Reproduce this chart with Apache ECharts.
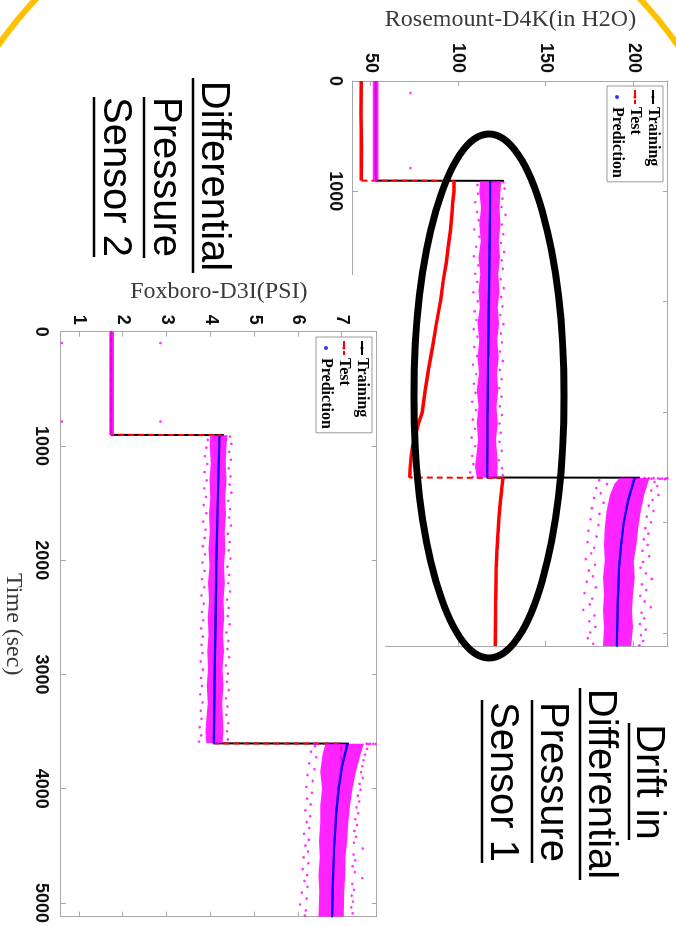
<!DOCTYPE html>
<html><head><meta charset="utf-8">
<script src="https://cdn.jsdelivr.net/npm/echarts@6/dist/echarts.min.js"></script>
<style>
html,body{margin:0;padding:0;background:#fff;overflow:hidden;width:676px;height:926px;}
#chart{position:absolute;left:0;top:0;width:926px;height:676px;transform-origin:0 0;transform:translate(676px,0) rotate(90deg);background:#fff;}
</style></head><body><div id="chart"></div>
<script>
// ---------- axis ticks / labels ----------
const timeTicks = [0, 1000, 2000, 3000, 4000, 5000];
const topTimeLabels = [0, 1000];
const topValTicks = [50, 100, 150, 200];
const botValTicks = [1, 2, 3, 4, 5, 6, 7];
const legendNames = ['Training', 'Test', 'Prediction'];

// ---------- Rosemount-D4K (top plot) ----------
const topTrain1 = [[0, 53], [903, 53]];
const topTrain2 = [[905, 126], [915, 118.2], [1500, 117.8], [2000, 117.4], [2500, 117], [3000, 116.7], [3593, 116.5]];
const topTrain3 = [[3595, 203.4], [3610, 200.3], [3800, 196.8], [4000, 194.3], [4200, 192.8], [4400, 191.7], [4700, 190.9], [5000, 190.5], [5120, 190.4]];
const topTest1 = [[0, 44.7], [300, 44.5], [600, 44.8], [903, 44.7]];
const topTest2 = [[905, 97.5], [1000, 97.6], [1100, 96.9], [1200, 96.4], [1350, 95.6], [1500, 94.3], [1650, 93.1], [1800, 91.5], [2000, 89.8], [2200, 87.5], [2400, 85.4], [2600, 83.2], [2800, 81.2], [3000, 79.5], [3100, 77.4], [3200, 75.8], [3300, 74.1], [3400, 73.2], [3500, 72.6], [3593, 72.3]];
const topTest3 = [[3597, 125.5], [3700, 124.7], [3800, 124], [3950, 123.2], [4100, 122.6], [4250, 122.1], [4400, 121.7], [4700, 121.3], [5120, 121.1]];
const topPred2 = [[915, 118.2], [1500, 117.8], [2000, 117.4], [2500, 117], [3000, 116.7], [3593, 116.5]];
const topPred3 = [[3597, 200.5], [3800, 196.8], [4000, 194.3], [4200, 192.8], [4400, 191.7], [4700, 190.9], [5000, 190.5], [5120, 190.4]];
// dense part of the magenta cloud: [time, low, high]
const topBand1 = [[0, 51.3, 54.5], [903, 51.3, 54.5]];
const topBand2 = [[906, 112.5, 124.5], [1000, 112, 124], [1150, 113, 123.5], [1300, 112, 124], [1450, 112.8, 123], [1600, 111.5, 123.8], [1750, 112.5, 122.8], [1900, 111.5, 123.5], [2050, 112.2, 122.5], [2200, 111, 123.2], [2350, 112, 122.2], [2500, 111, 123], [2650, 111.8, 122], [2800, 110.5, 122.8], [2950, 111.5, 121.8], [3100, 110.5, 122.5], [3250, 111.2, 121.5], [3400, 110.2, 122.2], [3500, 109.5, 122.5], [3594, 110.5, 122]];
const topBand3 = [[3597, 192, 209], [3650, 189, 208], [3750, 186.5, 206], [3900, 184.5, 204], [4050, 183.5, 202.5], [4200, 183, 201.5], [4350, 183.5, 200], [4500, 182.5, 200.5], [4650, 183, 199.5], [4800, 182.5, 199], [4950, 183, 199.5], [5120, 182.5, 198.5]];
// scattered magenta points
const topCloud = [[109, 72.8], [790, 72.8],
  [918, 125.8], [942, 110.9], [975, 126.4], [1021, 111.3], [1066, 125.1], [1098, 109.6], [1142, 124.6], [1187, 110.7], [1213, 126.9], [1262, 111.6], [1301, 124.9], [1345, 109.1], [1388, 125.6], [1412, 111.9], [1467, 124.3], [1503, 110.2], [1549, 126.1], [1588, 108.9], [1625, 124.7], [1671, 111.4], [1702, 125.3], [1748, 109.7], [1796, 124.1], [1821, 110.8], [1877, 125.9], [1915, 108.6], [1958, 124.4], [1996, 111.1], [2043, 125.2], [2087, 109.3], [2121, 123.9], [2166, 110.4], [2204, 125.7], [2249, 108.8], [2288, 124.2], [2317, 110.9], [2369, 124.9], [2411, 109.1], [2452, 123.8], [2493, 110.6], [2538, 125.4], [2571, 108.4], [2619, 123.6], [2656, 110.2], [2702, 124.8], [2744, 108.9], [2783, 123.3], [2826, 109.8], [2861, 124.6], [2907, 107.9], [2948, 123.7], [2983, 110.1], [3027, 124.9], [3069, 108.3], [3104, 123.4], [3152, 109.5], [3188, 124.2], [3231, 107.6], [3270, 123.5], [3309, 109.7], [3352, 124.8], [3398, 107.9], [3436, 123.2], [3471, 108.6], [3509, 124.9], [3547, 106.8], [3572, 125.3], [3588, 108.2],
  [3598, 206.2], [3599, 208.7], [3600, 211.3], [3601, 213.8], [3602, 216.1], [3603, 218.4], [3604, 210.1], [3606, 214.9], [3608, 217.6], [3600, 219.2],
  [3618, 180.3], [3634, 211.8], [3652, 184.7], [3671, 213.4], [3689, 178.6], [3712, 209.9], [3735, 181.2], [3751, 214.1], [3778, 177.4], [3796, 210.7], [3822, 182.8], [3849, 208.6], [3871, 176.1], [3897, 211.2], [3923, 180.4], [3948, 207.4], [3972, 175.3], [3999, 209.8], [4024, 179.9], [4051, 206.6], [4076, 174.2], [4102, 208.3], [4128, 178.8], [4153, 205.7], [4179, 173.6], [4204, 207.9], [4230, 177.5], [4257, 204.9], [4281, 175.8], [4306, 208.8], [4333, 172.7], [4359, 205.2], [4384, 177.9], [4411, 203.8], [4437, 174.4], [4462, 206.9], [4488, 176.7], [4513, 210.3], [4538, 173.2], [4562, 204.6], [4589, 178.4], [4614, 207.1], [4640, 171.9], [4666, 203.7], [4691, 176.3], [4716, 206.2], [4743, 174.9], [4768, 209.7], [4793, 171.2], [4819, 204.4], [4844, 177.6], [4870, 205.9], [4896, 174.6], [4921, 203.5], [4947, 178.1], [4972, 206.8], [4998, 175.2], [5023, 204.1], [5049, 173.8], [5074, 205.3], [5100, 176.9], [5114, 203.2]];

// ---------- Foxboro-D3I (bottom plot) ----------
const botTrain1 = [[0, 1.73], [903, 1.73]];
const botTrain2 = [[905, 4.3], [915, 4.19], [1500, 4.16], [2000, 4.13], [2500, 4.11], [3000, 4.09], [3603, 4.07]];
const botTrain3 = [[3605, 7.15], [3620, 7.1], [3800, 7.0], [4000, 6.92], [4200, 6.87], [4500, 6.82], [4800, 6.79], [5120, 6.77]];
const botTest1 = [[0, 1.73], [903, 1.73]];
const botTest2 = [[905, 4.22], [1500, 4.16], [2000, 4.13], [2500, 4.11], [3000, 4.09], [3603, 4.07]];
const botTest3 = [[3605, 6.98], [3800, 6.98], [4000, 6.91], [4200, 6.86], [4500, 6.82], [4800, 6.79], [5120, 6.77]];
const botPred2 = [[915, 4.2], [1500, 4.16], [2000, 4.13], [2500, 4.11], [3000, 4.09], [3600, 4.07]];
const botPred3 = [[3610, 7.12], [3800, 7.0], [4000, 6.92], [4200, 6.87], [4500, 6.82], [4800, 6.79], [5120, 6.77]];
const botBand1 = [[0, 1.68, 1.79], [903, 1.68, 1.79]];
const botBand2 = [[906, 3.99, 4.38], [1000, 3.98, 4.36], [1150, 4.0, 4.34], [1300, 3.97, 4.36], [1450, 3.99, 4.33], [1600, 3.96, 4.35], [1750, 3.98, 4.32], [1900, 3.95, 4.33], [2050, 3.97, 4.3], [2200, 3.94, 4.32], [2350, 3.96, 4.29], [2500, 3.93, 4.31], [2650, 3.95, 4.28], [2800, 3.92, 4.3], [2950, 3.94, 4.27], [3100, 3.91, 4.29], [3250, 3.93, 4.26], [3400, 3.9, 4.28], [3500, 3.88, 4.29], [3602, 3.9, 4.27]];
const botBand3 = [[3606, 6.62, 7.5], [3700, 6.55, 7.42], [3850, 6.5, 7.32], [4000, 6.54, 7.24], [4150, 6.5, 7.18], [4300, 6.5, 7.14], [4450, 6.47, 7.12], [4600, 6.49, 7.08], [4750, 6.46, 7.07], [4900, 6.48, 7.05], [5120, 6.46, 7.04]];
const botCloud = [[99, 0.6], [99, 2.85], [786, 0.6], [786, 2.85],
  [918, 4.44], [947, 3.93], [981, 4.47], [1015, 3.9], [1052, 4.42], [1089, 3.87], [1121, 4.46], [1158, 3.92], [1196, 4.41], [1229, 3.86], [1267, 4.45], [1302, 3.91], [1338, 4.43], [1371, 3.85], [1409, 4.47], [1446, 3.89], [1481, 4.4], [1517, 3.84], [1553, 4.44], [1588, 3.9], [1626, 4.42], [1662, 3.83], [1697, 4.46], [1733, 3.88], [1769, 4.39], [1806, 3.86], [1841, 4.43], [1877, 3.82], [1913, 4.41], [1949, 3.87], [1986, 4.45], [2021, 3.81], [2057, 4.38], [2093, 3.86], [2129, 4.42], [2166, 3.8], [2201, 4.4], [2237, 3.85], [2274, 4.44], [2309, 3.79], [2345, 4.37], [2381, 3.84], [2418, 4.41], [2453, 3.8], [2489, 4.39], [2526, 3.83], [2561, 4.43], [2597, 3.78], [2633, 4.36], [2669, 3.82], [2706, 4.4], [2741, 3.79], [2777, 4.38], [2813, 3.81], [2849, 4.42], [2886, 3.77], [2921, 4.35], [2957, 3.82], [2993, 4.39], [3030, 3.78], [3065, 4.37], [3101, 3.8], [3137, 4.41], [3174, 3.76], [3209, 4.35], [3245, 3.81], [3281, 4.38], [3318, 3.77], [3353, 4.36], [3389, 3.79], [3426, 4.4], [3461, 3.75], [3497, 4.37], [3533, 3.78], [3569, 4.39], [3588, 3.73],
  [3606, 7.56], [3607, 7.64], [3608, 7.71], [3609, 7.77], [3607, 6.42], [3608, 6.36], [3610, 7.6],
  [3628, 6.38], [3651, 7.57], [3676, 6.29], [3702, 7.52], [3725, 6.41], [3751, 7.49], [3778, 6.25], [3803, 7.46], [3829, 6.37], [3855, 7.43], [3881, 6.21], [3906, 7.47], [3932, 6.33], [3958, 7.4], [3984, 6.18], [4009, 7.42], [4035, 6.31], [4061, 7.36], [4087, 6.2], [4112, 7.39], [4138, 6.28], [4164, 7.33], [4189, 6.16], [4215, 7.37], [4241, 6.27], [4267, 7.3], [4292, 6.19], [4318, 7.34], [4344, 6.25], [4370, 7.28], [4395, 6.13], [4421, 7.32], [4447, 6.24], [4473, 7.27], [4498, 6.16], [4524, 7.47], [4550, 6.22], [4576, 7.26], [4601, 6.12], [4627, 7.3], [4653, 6.23], [4679, 7.24], [4704, 6.1], [4730, 7.29], [4756, 6.2], [4782, 7.46], [4807, 6.14], [4833, 7.23], [4859, 6.21], [4885, 7.27], [4910, 6.08], [4936, 7.22], [4962, 6.19], [4988, 7.25], [5013, 6.04], [5039, 7.21], [5065, 6.17], [5091, 7.24], [5110, 6.15]];

// ---------- helpers ----------
const GRAY = '#a8a8a8';
const LBL = {fontFamily: 'Liberation Sans', fontWeight: 'bold', fontSize: 18, color: '#111'};
const NAME = {fontFamily: 'Liberation Serif', fontSize: 24, color: '#3a3a3a'};

function axis(grid, pos, min, max, ticks, labels, margin, z, extra) {
  return Object.assign({
    type: 'value', gridIndex: grid, position: pos, min: min, max: max, z: z,
    axisLine: {show: true, onZero: false, lineStyle: {color: GRAY, width: 1}},
    axisTick: {show: true, inside: true, length: 5, customValues: ticks, lineStyle: {color: GRAY}},
    axisLabel: labels ? Object.assign({show: true, customValues: labels, margin: margin, formatter: v => String(v)}, LBL) : {show: false},
    splitLine: {show: false}
  }, extra || {});
}
function line(name, data, xi, yi, color, width, z, dashed) {
  return {type: 'line', name: name, data: data, xAxisIndex: xi, yAxisIndex: yi, symbol: 'none', z: z,
    silent: true, animation: false, clip: true,
    lineStyle: {color: color, width: width, type: dashed ? [6, 4] : 'solid'}, itemStyle: {color: color}};
}
function band(pts, xi, yi, z) {
  return {type: 'custom', xAxisIndex: xi, yAxisIndex: yi, z: z, silent: true, data: pts,
    encode: {x: 0, y: [1, 2]},
    renderItem: function (params, api) {
      if (params.dataIndex !== 0) return;
      const up = pts.map(p => api.coord([p[0], p[2]]));
      const lo = pts.map(p => api.coord([p[0], p[1]])).reverse();
      return {type: 'polygon', shape: {points: up.concat(lo)}, style: {fill: '#ff00ff', opacity: 0.86}};
    }};
}
function cloud(data, xi, yi, z) {
  return {type: 'scatter', data: data, xAxisIndex: xi, yAxisIndex: yi, z: z, silent: true,
    symbol: 'circle', symbolSize: 2.6, itemStyle: {color: '#ff00ff'}};
}
function predDots(data, xi, yi, z) {
  return {type: 'scatter', name: 'Prediction', data: data, xAxisIndex: xi, yAxisIndex: yi, z: z, silent: true,
    symbol: 'circle', symbolSize: 2, itemStyle: {color: '#0000ff'}};
}
const cat = (...a) => [].concat(...a);

function legend(left, top) {
  return {data: legendNames, left: left, top: top, orient: 'vertical', z: 20, selectedMode: false,
    itemWidth: 14, itemHeight: 4, itemGap: 2, padding: [2, 4, 2, 3],
    backgroundColor: '#fff', borderColor: '#9a9a9a', borderWidth: 1,
    textStyle: {fontFamily: 'Liberation Serif', fontWeight: 'bold', fontSize: 16, color: '#000', padding: [0, 0, 0, -2]}};
}

const chart = echarts.init(document.getElementById('chart'));
const option = {
  animation: false,
  backgroundColor: '#fff',
  grid: [
    {left: 81, top: 8, width: 565, height: 315},
    {left: 331.7, top: 299.3, width: 586, height: 321}
  ],
  xAxis: [
    axis(0, 'bottom', 0, 5120, timeTicks, topTimeLabels, 9, 1),
    axis(0, 'top', 0, 5120, timeTicks, null, 0, 1),
    axis(1, 'bottom', 0, 5120, timeTicks, timeTicks, 11, 9,
      {name: 'Time (sec)', nameLocation: 'middle', nameGap: 36, nameTextStyle: NAME}),
    axis(1, 'top', 0, 5120, timeTicks, null, 0, 9)
  ],
  yAxis: [
    axis(0, 'left', 40, 219.5, topValTicks, topValTicks, 8, 1,
      {name: 'Rosemount-D4K(in H2O)', nameLocation: 'middle', nameGap: 39, nameRotate: 90, nameTextStyle: NAME}),
    axis(0, 'right', 40, 219.5, topValTicks, null, 0, 1),
    axis(1, 'left', 0.58, 7.79, botValTicks, botValTicks, 7, 9,
      {name: 'Foxboro-D3I(PSI)', nameLocation: 'middle', nameGap: 17, nameRotate: 90, nameTextStyle: NAME}),
    axis(1, 'right', 0.58, 7.79, botValTicks, null, 0, 9)
  ],
  legend: [legend(86, 13), legend(337, 304)],
  series: [
    // top plot
    line('Training', cat(topTrain1, topTrain2, topTrain3), 0, 0, '#000', 2, 2, false),
    line('Test', cat(topTest1, topTest2, topTest3), 0, 0, '#ff0000', 2, 3, true),
    line('', topTest1, 0, 0, '#ff0000', 3.5, 3, false),
    line('', topTest2, 0, 0, '#ff0000', 3.5, 3, false),
    line('', topTest3, 0, 0, '#ff0000', 3.5, 3, false),
    band(topBand1, 0, 0, 4), band(topBand2, 0, 0, 4), band(topBand3, 0, 0, 4),
    cloud(topCloud, 0, 0, 4),
    predDots(cat(topPred2, topPred3), 0, 0, 5),
    line('Prediction', topPred2, 0, 0, '#0000ff', 2.2, 5, false),
    line('Prediction', topPred3, 0, 0, '#0000ff', 2.2, 5, false),
    // bottom plot
    line('Training', cat(botTrain1, botTrain2, botTrain3), 2, 2, '#000', 2, 10, false),
    line('Test', cat(botTest1, botTest2, botTest3), 2, 2, '#ff0000', 2, 11, true),
    band(botBand1, 2, 2, 12), band(botBand2, 2, 2, 12), band(botBand3, 2, 2, 12),
    cloud(botCloud, 2, 2, 12),
    predDots(cat(botPred2, botPred3), 2, 2, 13),
    line('Prediction', botPred2, 2, 2, '#0000ff', 2.2, 13, false),
    line('Prediction', botPred3, 2, 2, '#0000ff', 2.2, 13, false)
  ],
  graphic: {elements: [
    // yellow slide ring, visible only in the top corners
    {type: 'circle', shape: {cx: 282, cy: 338, r: 414}, style: {fill: 'none', stroke: '#FFC000', lineWidth: 6}, z: 0, z2: 0, silent: true},
    {type: 'rect', shape: {x: 100, y: 0, width: 826, height: 676}, style: {fill: '#fff'}, z: 0, z2: 1, silent: true},
    // white background of the lower subplot, covering the upper one
    {type: 'rect', shape: {x: 275, y: 291, width: 651, height: 385}, style: {fill: '#fff'}, z: 8, silent: true},
    // annotations
    {type: 'ellipse', shape: {cx: 396, cy: 187, rx: 262, ry: 75}, style: {fill: 'none', stroke: '#000', lineWidth: 7}, z: 30, silent: true},
    ...[['Differential', 176, 463, 483, 78, 273], ['Pressure', 177, 511, 532, 97, 258], ['Sensor 2', 177, 561, 582, 97, 257],
        ['Drift in', 782, 28, 47, 723, 840], ['Differential', 784, 76, 96, 688, 880], ['Pressure', 782, 124, 144, 700, 863], ['Sensor 1', 782, 174, 194, 700, 863]]
      .flatMap(a => [
        {type: 'text', x: a[1], y: a[2], z: 30, silent: true,
          style: {text: a[0], font: '40px "Liberation Sans", Arial, sans-serif', fill: '#000', align: 'center', verticalAlign: 'middle', textAlign: 'center', textVerticalAlign: 'middle'}},
        {type: 'line', shape: {x1: a[4], y1: a[3], x2: a[5], y2: a[3]}, style: {stroke: '#000', lineWidth: 2.5}, z: 30, silent: true}
      ])
  ]}
};
chart.setOption(option);
</script></body></html>
